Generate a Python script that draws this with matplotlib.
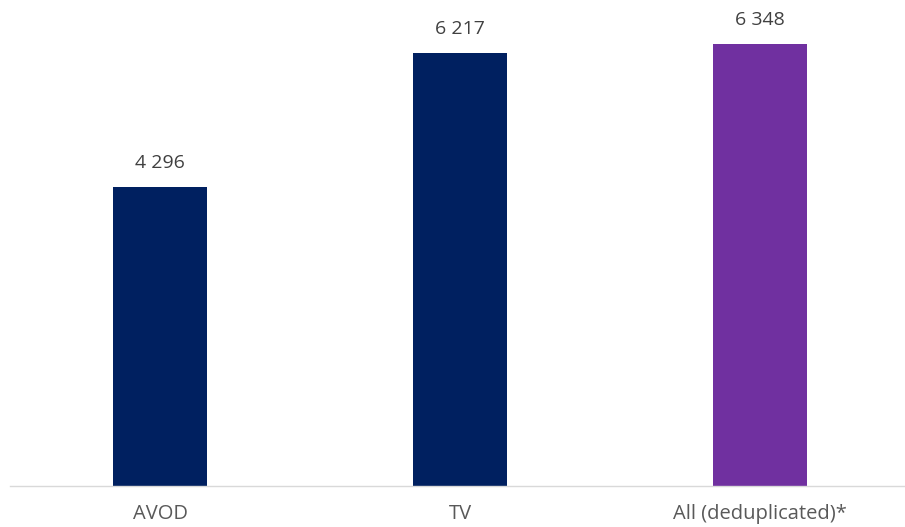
import matplotlib.pyplot as plt

# Data
categories = ["AVOD", "TV", "All (deduplicated)*"]
values = [4296, 6217, 6348]
labels = ["4 296", "6 217", "6 348"]
colors = ["#002060", "#002060", "#7030A0"]

plt.rcParams['font.family'] = ['Open Sans', 'DejaVu Sans']

fig = plt.figure(figsize=(9.05, 5.27), dpi=100)
ax = fig.add_axes([10 / 905, 1 - 486 / 527, 895 / 905, 486 / 527])

x = range(len(categories))
bars = ax.bar(x, values, width=0.316, color=colors)

for bar, lab in zip(bars, labels):
    ax.annotate(lab, (bar.get_x() + bar.get_width() / 2, bar.get_height()),
                xytext=(0, 11), textcoords='offset points',
                ha='center', va='bottom', fontsize=14, color='#404040')

ax.set_xlim(-0.5, 2.483)
ax.set_ylim(0, 6983)
ax.set_xticks(list(x))
ax.set_xticklabels(categories, fontsize=14.5, color='#595959')
ax.tick_params(axis='x', length=0, pad=13)
ax.set_yticks([])
for side in ['top', 'right', 'left']:
    ax.spines[side].set_visible(False)
ax.spines['bottom'].set_color('#d9d9d9')
ax.spines['bottom'].set_linewidth(1)

fig.savefig("out.png", dpi=100)
